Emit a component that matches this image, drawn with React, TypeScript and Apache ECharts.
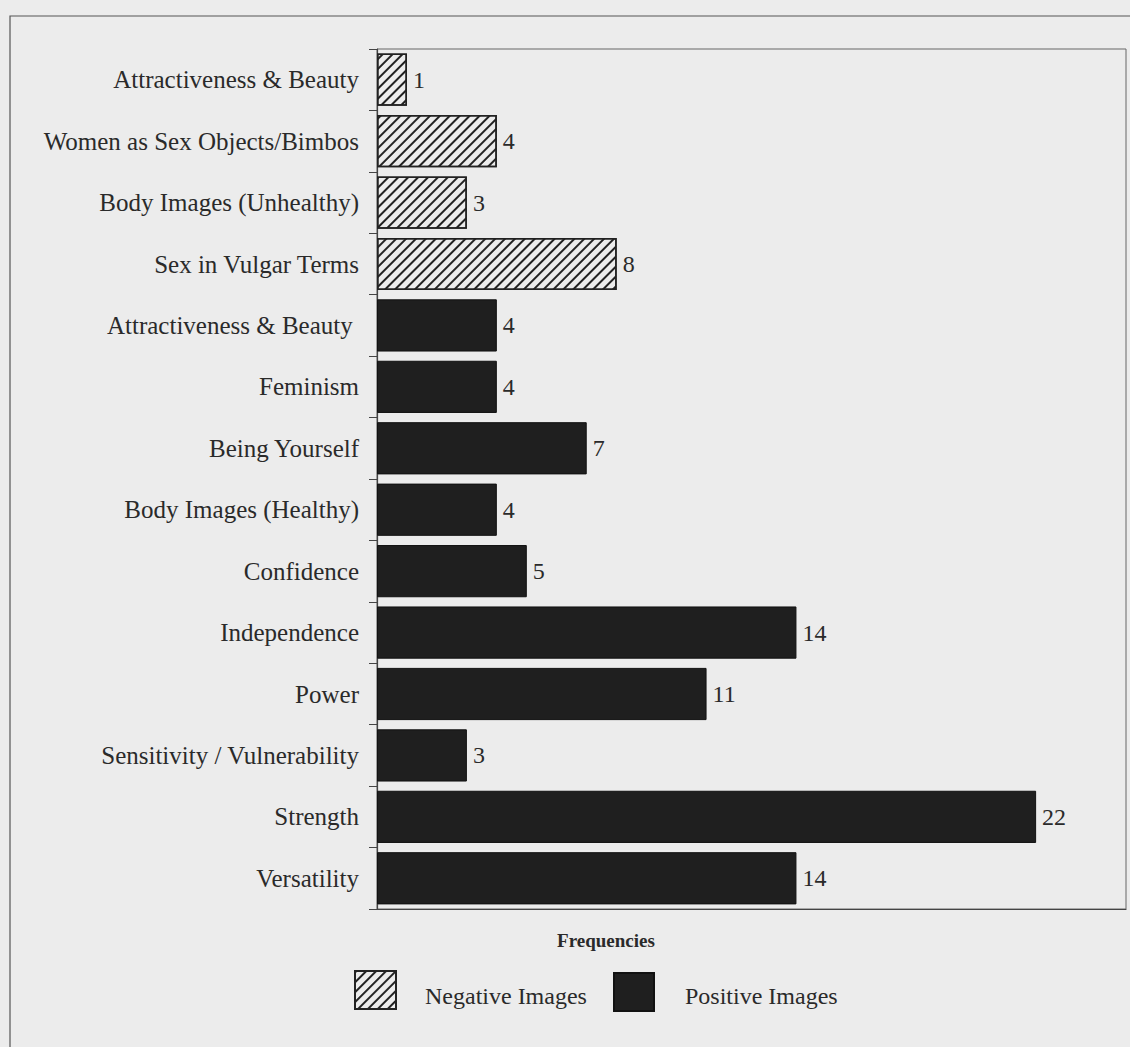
import React, { useEffect, useRef } from "react";
import * as echarts from "echarts";

const categories = [
  "Attractiveness & Beauty",
  "Women as Sex Objects/Bimbos",
  "Body Images (Unhealthy)",
  "Sex in Vulgar Terms",
  "Attractiveness & Beauty ",
  "Feminism",
  "Being Yourself",
  "Body Images (Healthy)",
  "Confidence",
  "Independence",
  "Power",
  "Sensitivity / Vulnerability",
  "Strength",
  "Versatility",
];

const negativeValues: (number | string)[] = [1, 4, 3, 8, "-", "-", "-", "-", "-", "-", "-", "-", "-", "-"];
const positiveValues: (number | string)[] = ["-", "-", "-", "-", 4, 4, 7, 4, 5, 14, 11, 3, 22, 14];

const seriesNames = ["Negative Images", "Positive Images"];

const FONT = "'Liberation Serif', 'Times New Roman', serif";
const BG = "#ececec";
const INK = "#2a2a2a";
const BAR = "#1f1f1f";

export default function App() {
  const ref = useRef<HTMLDivElement>(null);
  useEffect(() => {
    if (!ref.current) return;
    const chart = echarts.init(ref.current, undefined, { renderer: "svg" });
    const hatch = {
      symbol: "rect",
      symbolSize: 1,
      dashArrayX: [1, 0],
      dashArrayY: [2, 4.5],
      rotation: -Math.PI / 4,
      color: "#222",
    };
    const valueLabel = {
      show: true,
      position: "right",
      distance: 6,
      fontFamily: FONT,
      fontSize: 24,
      color: INK,
    };
    const legendText = (text: string, x: number) => ({
      type: "text",
      silent: true,
      x,
      y: 996,
      style: {
        text,
        fontFamily: FONT,
        fontSize: 24,
        fill: INK,
        align: "left",
        verticalAlign: "middle",
      },
    });
    chart.setOption({
      animation: false,
      backgroundColor: BG,
      textStyle: { fontFamily: FONT, color: INK },
      grid: {
        left: 377,
        right: 4,
        top: 49,
        bottom: 138,
        show: true,
        borderColor: "#666",
        borderWidth: 1,
      },
      xAxis: {
        type: "value",
        min: 0,
        max: 25,
        axisLabel: { show: false },
        axisTick: { show: false },
        splitLine: { show: false },
        axisLine: { show: true, lineStyle: { color: "#444", width: 1.2 } },
      },
      yAxis: {
        type: "category",
        data: categories,
        inverse: true,
        axisLine: { show: true, lineStyle: { color: "#444", width: 1.2 } },
        axisTick: { show: true, length: 8, lineStyle: { color: "#444" } },
        axisLabel: { fontFamily: FONT, fontSize: 25, color: INK, margin: 18 },
      },
      legend: [
        {
          data: [seriesNames[0]],
          left: 354,
          top: 970,
          padding: 0,
          icon: "rect",
          itemWidth: 41,
          itemHeight: 38,
          selectedMode: false,
          formatter: () => "",
        },
        {
          data: [seriesNames[1]],
          left: 613,
          top: 972,
          padding: 0,
          icon: "rect",
          itemWidth: 40,
          itemHeight: 38,
          selectedMode: false,
          formatter: () => "",
        },
      ],
      graphic: [
        {
          type: "rect",
          silent: true,
          shape: { x: 10, y: 16, width: 1140, height: 1100 },
          style: { fill: "none", stroke: "#555", lineWidth: 1.2 },
        },
        {
          type: "text",
          silent: true,
          x: 606,
          y: 940,
          style: {
            text: "Frequencies",
            fontFamily: FONT,
            fontSize: 19,
            fontWeight: "bold",
            fill: INK,
            align: "center",
            verticalAlign: "middle",
          },
        },
        legendText(seriesNames[0], 425),
        legendText(seriesNames[1], 685),
      ],
      series: [
        {
          name: seriesNames[0],
          type: "bar",
          stack: "all",
          barCategoryGap: "15%",
          data: negativeValues,
          itemStyle: { color: BG, borderColor: "#222", borderWidth: 1.5, decal: hatch },
          label: valueLabel,
        },
        {
          name: seriesNames[1],
          type: "bar",
          stack: "all",
          barCategoryGap: "15%",
          data: positiveValues,
          itemStyle: { color: BAR, borderColor: "#111", borderWidth: 1 },
          label: valueLabel,
        },
      ],
    });
    return () => chart.dispose();
  }, []);
  return (
    <div
      ref={ref}
      style={{ position: "absolute", left: 0, top: 0, width: 1130, height: 1047 }}
    />
  );
}
